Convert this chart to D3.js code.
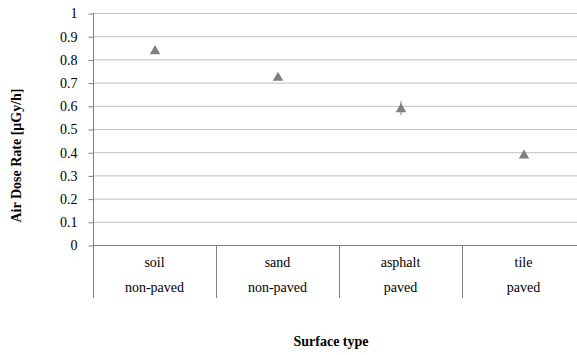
<!DOCTYPE html>
<html><head><meta charset="utf-8">
<script src="https://cdn.jsdelivr.net/npm/d3@7"></script>
<style>body{margin:0;background:#fff}svg{display:block}</style>
</head><body>
<svg id="c" width="577" height="355"></svg>
<script>
const categories = ["soil", "sand", "asphalt", "tile"];
const groups = ["non-paved", "non-paved", "paved", "paved"];
const values = [0.84, 0.725, 0.59, 0.39];
const errors = [0.01, 0.008, 0.03, 0.006];
const yTicks = [0, 0.1, 0.2, 0.3, 0.4, 0.5, 0.6, 0.7, 0.8, 0.9, 1];
const yTitle = "Air Dose Rate [μGy/h]";
const xTitle = "Surface type";

const svg = d3.select("#c");
const fs = 14;
const FF = "'Liberation Serif', 'Times New Roman', serif";
const L = 93, R = 585, T = 13, B = 245, catBottom = 298;
const x = d3.scaleBand().domain(categories).range([L, R]);
const y = d3.scaleLinear().domain([0, 1]).range([B, T]);

// gridlines
svg.append("g").selectAll("line").data(yTicks.filter(d => d > 0)).join("line")
  .attr("x1", L).attr("x2", R).attr("y1", d => y(d) + 0.5).attr("y2", d => y(d) + 0.5)
  .attr("stroke", "#c0c0c0").attr("stroke-width", 1);

// y axis
const ya = d3.axisLeft(y).tickValues(yTicks).tickSize(5).tickPadding(11).tickFormat(d => String(d));
const gy = svg.append("g").attr("transform", `translate(${L + 0.5},0.5)`).call(ya)
  .attr("font-family", FF).attr("font-size", fs);
gy.select(".domain").remove();
gy.selectAll(".tick line").attr("stroke", "#808080");
gy.selectAll("text").attr("fill", "#000");
svg.append("line").attr("x1", L + 0.5).attr("x2", L + 0.5).attr("y1", T).attr("y2", catBottom)
  .attr("stroke", "#808080");
svg.append("line").attr("x1", L).attr("x2", R).attr("y1", B + 0.5).attr("y2", B + 0.5)
  .attr("stroke", "#808080");

// category dividers
svg.append("g").selectAll("line").data(categories.slice(1)).join("line")
  .attr("x1", d => x(d) + 0.5).attr("x2", d => x(d) + 0.5)
  .attr("y1", B).attr("y2", catBottom).attr("stroke", "#808080");

// category labels
const cl = svg.append("g").attr("font-family", FF).attr("font-size", fs).attr("text-anchor", "middle");
cl.selectAll("text.c").data(categories).join("text").attr("class", "c")
  .attr("x", d => x(d) + x.bandwidth() / 2).attr("y", 267).text(d => d);
cl.selectAll("text.g").data(groups).join("text").attr("class", "g")
  .attr("x", (d, i) => x(categories[i]) + x.bandwidth() / 2).attr("y", 292).text(d => d);

// error bars
svg.append("g").selectAll("line").data(values).join("line")
  .attr("x1", (d, i) => x(categories[i]) + x.bandwidth() / 2 + 0.5)
  .attr("x2", (d, i) => x(categories[i]) + x.bandwidth() / 2 + 0.5)
  .attr("y1", (d, i) => y(d + errors[i])).attr("y2", (d, i) => y(d - errors[i]))
  .attr("stroke", "#808080").attr("stroke-width", 1);

// markers
const tri = d3.symbol().type(d3.symbolTriangle).size(48);
svg.append("g").selectAll("path").data(values).join("path")
  .attr("d", tri)
  .attr("transform", (d, i) => `translate(${x(categories[i]) + x.bandwidth() / 2 + 0.5},${y(d) + 1})`)
  .attr("fill", "#808080");

// titles
svg.append("text").attr("font-family", FF).attr("font-size", fs).attr("font-weight", "bold")
  .attr("text-anchor", "middle").attr("transform", `translate(21,${(T + catBottom) / 2}) rotate(-90)`)
  .text(yTitle);
svg.append("text").attr("font-family", FF).attr("font-size", fs).attr("font-weight", "bold")
  .attr("text-anchor", "middle").attr("x", 331).attr("y", 346).text(xTitle);
</script>
</body></html>
